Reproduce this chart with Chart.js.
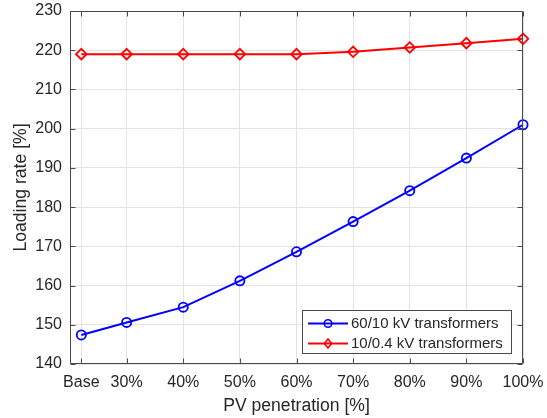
<!DOCTYPE html>
<html>
<head>
<meta charset="utf-8">
<script src="https://cdn.jsdelivr.net/npm/chart.js@4"></script>
<style>
  html, body { margin: 0; padding: 0; background: #fff; }
  #wrap { width: 547px; height: 418px; }
</style>
</head>
<body>
<div id="wrap"><canvas id="c" width="547" height="418"></canvas></div>
<script>
// PV penetration levels (x position of each case) and their tick labels
const penetrationX = [22, 30, 40, 50, 60, 70, 80, 90, 100];
const penetrationLabels = ['Base', '30%', '40%', '50%', '60%', '70%', '80%', '90%', '100%'];

// Loading rate [%] of each transformer group
const loading60to10 = [147.4, 150.6, 154.5, 161.2, 168.6, 176.3, 184.2, 192.5, 201.0];
const loading10to04 = [219.0, 219.0, 219.0, 219.0, 219.0, 219.6, 220.7, 221.8, 222.9];

const seriesNames = ['60/10 kV transformers', '10/0.4 kV transformers'];
const yTicks = [140, 150, 160, 170, 180, 190, 200, 210, 220, 230];

const FONT = '"Liberation Sans", Arial, Helvetica, sans-serif';
const TEXT = '#262626';
const TICK_SIZE = 16;
const LABEL_SIZE = 17.6;

function points(ys) {
  return penetrationX.map((x, i) => ({ x: x, y: ys[i] }));
}

// Inward tick marks and the box around the axes
const axesFrame = {
  id: 'axesFrame',
  afterDatasetsDraw(chart) {
    const { ctx, chartArea: a, scales: { x, y } } = chart;
    const L = Math.round(a.left) + 0.5, R = Math.round(a.right) - 0.5;
    const T = Math.round(a.top) + 0.5, B = Math.round(a.bottom) - 0.5;
    const len = 5;
    ctx.save();
    ctx.strokeStyle = '#4a4a4a';
    ctx.lineWidth = 1;
    ctx.beginPath();
    ctx.rect(L, T, R - L, B - T);
    x.ticks.forEach(t => {
      const px = Math.round(x.getPixelForValue(t.value)) + 0.5;
      ctx.moveTo(px, B); ctx.lineTo(px, B - len);
      ctx.moveTo(px, T); ctx.lineTo(px, T + len);
    });
    y.ticks.forEach(t => {
      const py = Math.round(y.getPixelForValue(t.value)) + 0.5;
      ctx.moveTo(L, py); ctx.lineTo(L + len, py);
      ctx.moveTo(R, py); ctx.lineTo(R - len, py);
    });
    ctx.stroke();
    ctx.restore();
  }
};

function drawMarker(ctx, style, cx, cy, r) {
  ctx.beginPath();
  if (style === 'circle') {
    ctx.arc(cx, cy, r, 0, Math.PI * 2);
  } else {
    ctx.moveTo(cx, cy - r); ctx.lineTo(cx + r * 0.8, cy);
    ctx.lineTo(cx, cy + r); ctx.lineTo(cx - r * 0.8, cy);
    ctx.closePath();
  }
  ctx.stroke();
}

// Boxed legend in the lower right corner: line sample with marker, then the name
const boxLegend = {
  id: 'boxLegend',
  afterDraw(chart) {
    const { ctx, chartArea: a } = chart;
    const sets = chart.data.datasets;
    ctx.save();
    ctx.font = '15px ' + FONT;
    const textW = Math.max(...sets.map(d => ctx.measureText(d.label).width));
    const padL = 6, sampleW = 40, gap = 3, padR = 9, rowH = 20;
    const w = Math.round(padL + sampleW + gap + textW + padR);
    const h = 44;
    const right = Math.round(a.right) - 11, bottom = Math.round(a.bottom) - 10;
    const left = right - w, top = bottom - h;
    ctx.fillStyle = '#fff';
    ctx.fillRect(left, top, w, h);
    ctx.strokeStyle = '#4a4a4a';
    ctx.lineWidth = 1;
    ctx.strokeRect(left + 0.5, top + 0.5, w - 1, h - 1);
    sets.forEach((d, i) => {
      const cy = top + 13.5 + i * rowH;
      const x0 = left + padL;
      ctx.strokeStyle = d.borderColor;
      ctx.lineWidth = 2;
      ctx.beginPath();
      ctx.moveTo(x0, cy); ctx.lineTo(x0 + sampleW, cy);
      ctx.stroke();
      ctx.lineWidth = 1.6;
      drawMarker(ctx, d.pointStyle, x0 + sampleW / 2, cy, d.pointStyle === 'circle' ? 3.8 : 4.5);
      ctx.fillStyle = TEXT;
      ctx.textBaseline = 'middle';
      ctx.textAlign = 'left';
      ctx.fillText(d.label, x0 + sampleW + gap, cy + 0.5);
    });
    ctx.restore();
  }
};

new Chart(document.getElementById('c'), {
  type: 'line',
  data: {
    datasets: [
      {
        label: seriesNames[0],
        data: points(loading60to10),
        borderColor: '#0000ff',
        borderWidth: 2,
        pointStyle: 'circle',
        pointRadius: 4.6,
        pointBorderWidth: 1.8,
        pointBackgroundColor: 'rgba(0,0,0,0)',
        pointBorderColor: '#0000ff',
        tension: 0,
        clip: false
      },
      {
        label: seriesNames[1],
        data: points(loading10to04),
        borderColor: '#ff0000',
        borderWidth: 2,
        pointStyle: 'rectRot',
        pointRadius: 5.3,
        pointBorderWidth: 1.8,
        pointBackgroundColor: 'rgba(0,0,0,0)',
        pointBorderColor: '#ff0000',
        tension: 0,
        clip: false
      }
    ]
  },
  options: {
    responsive: false,
    devicePixelRatio: 1,
    animation: false,
    layout: { padding: { left: 0, top: 11, right: 24, bottom: 0 } },
    plugins: {
      legend: { display: false },
      tooltip: { enabled: false }
    },
    scales: {
      x: {
        type: 'linear',
        min: 20,
        max: 100,
        afterBuildTicks(scale) {
          scale.ticks = penetrationX.map(v => ({ value: v }));
        },
        afterFit(scale) {
          scale.height = 54;
          scale.paddingLeft = 0;
          scale.paddingRight = 0;
        },
        ticks: {
          autoSkip: false,
          maxRotation: 0,
          padding: 9,
          color: TEXT,
          font: { family: FONT, size: TICK_SIZE },
          callback: (v) => penetrationLabels[penetrationX.indexOf(v)]
        },
        grid: { color: '#e3e3e3', lineWidth: 1, drawTicks: false },
        border: { display: false },
        title: {
          display: true,
          text: 'PV penetration [%]',
          color: TEXT,
          font: { family: FONT, size: LABEL_SIZE },
          padding: { top: 0, bottom: 1 }
        }
      },
      y: {
        type: 'linear',
        min: 140,
        max: 230,
        afterBuildTicks(scale) {
          scale.ticks = yTicks.map(v => ({ value: v }));
        },
        afterFit(scale) {
          scale.width = 70;
          scale.paddingTop = 0;
          scale.paddingBottom = 0;
        },
        ticks: {
          padding: 8,
          color: TEXT,
          font: { family: FONT, size: TICK_SIZE }
        },
        grid: { color: '#e3e3e3', lineWidth: 1, drawTicks: false },
        border: { display: false },
        title: {
          display: true,
          text: 'Loading rate [%]',
          color: TEXT,
          font: { family: FONT, size: LABEL_SIZE },
          padding: { top: 11, bottom: 0 }
        }
      }
    }
  },
  plugins: [axesFrame, boxLegend]
});
</script>
</body>
</html>
